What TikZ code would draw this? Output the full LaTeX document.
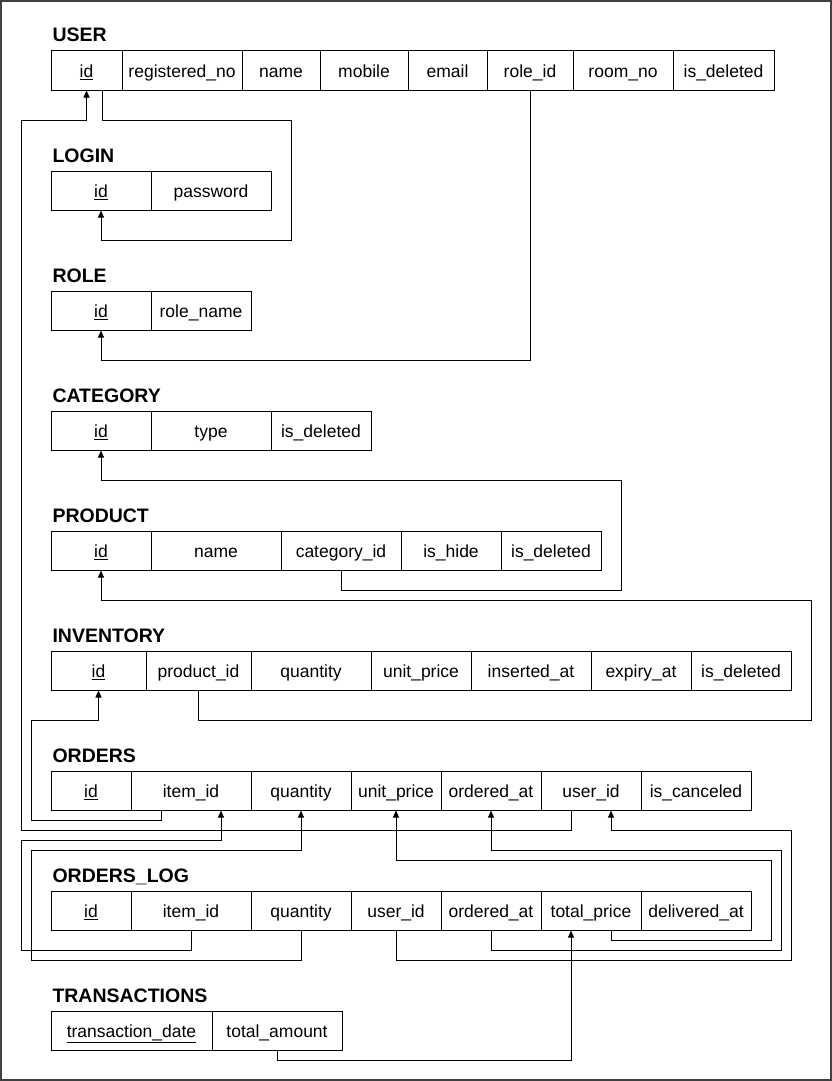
\documentclass[tikz,border=0pt]{standalone}
\usepackage{fontspec}
\setmainfont{Liberation Sans}
\usetikzlibrary{arrows.meta, positioning, calc}

\begin{document}
\begin{tikzpicture}[
    x=1pt, y=-1pt,
    >={Triangle[length=7pt,width=6pt]},
    line width=1pt,
    cell/.style={draw, minimum height=39pt, inner sep=0pt, text height=16.5pt, text depth=2pt,
        font=\fontsize{17.5}{21}\selectfont},
    title/.style={anchor=base west, inner sep=0pt, font=\fontsize{19.5}{23}\selectfont\bfseries},
    fk/.style={->, line width=1pt}
]

    % Page and frame
    \useasboundingbox (0,0) rectangle (832,1081);
    \draw[line width=1.5pt, black!75] (1,1) rectangle (831,1080);

    % USER
    \node[title] (user-title) at (52,42) {USER};
    \foreach \nm/\xa/\xb/\txt in {id/51/122/\underline{id}, reg/122/242/registered\_no,
        name/242/320/name, mobile/320/408/mobile, email/408/487/email,
        role/487/573/role\_id, room/573/673/room\_no, del/673/774/is\_deleted}
        \node[cell, minimum width={\xb-\xa}] (user-\nm) at ({(\xa+\xb)/2},70.5) {\txt};

    % LOGIN
    \node[title] (login-title) at (52,162) {LOGIN};
    \foreach \nm/\xa/\xb/\txt in {id/51/151/\underline{id}, pass/151/271/password}
        \node[cell, minimum width={\xb-\xa}] (login-\nm) at ({(\xa+\xb)/2},190.5) {\txt};

    % ROLE
    \node[title] (role-title) at (52,282) {ROLE};
    \foreach \nm/\xa/\xb/\txt in {id/51/151/\underline{id}, name/151/251/role\_name}
        \node[cell, minimum width={\xb-\xa}] (role-\nm) at ({(\xa+\xb)/2},310.5) {\txt};

    % CATEGORY
    \node[title] (cat-title) at (52,402) {CATEGORY};
    \foreach \nm/\xa/\xb/\txt in {id/51/151/\underline{id}, type/151/271/type,
        del/271/371/is\_deleted}
        \node[cell, minimum width={\xb-\xa}] (cat-\nm) at ({(\xa+\xb)/2},430.5) {\txt};

    % PRODUCT
    \node[title] (prod-title) at (52,522) {PRODUCT};
    \foreach \nm/\xa/\xb/\txt in {id/51/151/\underline{id}, name/151/281/name,
        cat/281/401/category\_id, hide/401/501/is\_hide, del/501/601/is\_deleted}
        \node[cell, minimum width={\xb-\xa}] (prod-\nm) at ({(\xa+\xb)/2},550.5) {\txt};

    % INVENTORY
    \node[title] (inv-title) at (52,642) {INVENTORY};
    \foreach \nm/\xa/\xb/\txt in {id/51/146/\underline{id}, prod/146/251/product\_id,
        qty/251/371/quantity, price/371/471/unit\_price, ins/471/591/inserted\_at,
        exp/591/691/expiry\_at, del/691/791/is\_deleted}
        \node[cell, minimum width={\xb-\xa}] (inv-\nm) at ({(\xa+\xb)/2},670.5) {\txt};

    % ORDERS
    \node[title] (ord-title) at (52,762) {ORDERS};
    \foreach \nm/\xa/\xb/\txt in {id/51/131/\underline{id}, item/131/251/item\_id,
        qty/251/351/quantity, price/351/441/unit\_price, ordered/441/541/ordered\_at,
        user/541/641/user\_id, cancel/641/751/is\_canceled}
        \node[cell, minimum width={\xb-\xa}] (ord-\nm) at ({(\xa+\xb)/2},790.5) {\txt};

    % ORDERS_LOG
    \node[title] (log-title) at (52,882) {ORDERS\_LOG};
    \foreach \nm/\xa/\xb/\txt in {id/51/131/\underline{id}, item/131/251/item\_id,
        qty/251/351/quantity, user/351/441/user\_id, ordered/441/541/ordered\_at,
        total/541/641/total\_price, deliv/641/751/delivered\_at}
        \node[cell, minimum width={\xb-\xa}] (log-\nm) at ({(\xa+\xb)/2},910.5) {\txt};

    % TRANSACTIONS
    \node[title] (trans-title) at (52,1002) {TRANSACTIONS};
    \foreach \nm/\xa/\xb/\txt in {date/51/212/\underline{transaction\_date},
        total/212/342/total\_amount}
        \node[cell, minimum width={\xb-\xa}] (trans-\nm) at ({(\xa+\xb)/2},1030.5) {\txt};

    % Foreign keys
    \draw[fk] ([xshift=15.5]user-id.south) -- ++(0,30) -| (291,240) -| (login-id.south);
    \draw[fk] (user-role.south) -- ++(0,270) -| (role-id.south);
    \draw[fk] (prod-cat.south) -- ++(0,20) -| (621,480) -| (cat-id.south);
    \draw[fk] (inv-prod.south) -- ++(0,30) -| (811,600) -| (prod-id.south);
    \draw[fk] ([xshift=-30]ord-item.south) -- ++(0,10) -| (31,720) -| (inv-id.south);
    \draw[fk] ([xshift=-20]ord-user.south) -- ++(0,20) -| (21,120) -| (user-id.south);
    \draw[fk] (log-item.south) -- ++(0,20) -| (21,840) -| ([xshift=30]ord-item.south);
    \draw[fk] (log-qty.south) -- ++(0,30) -| (31,850) -| (ord-qty.south);
    \draw[fk] ([xshift=20]log-total.south) -- ++(0,10) -| (771,860) -| (ord-price.south);
    \draw[fk] (log-ordered.south) -- ++(0,20) -| (781,850) -| (ord-ordered.south);
    \draw[fk] (log-user.south) -- ++(0,30) -| (791,830) -| ([xshift=20]ord-user.south);
    \draw[fk] (trans-total.south) -- ++(0,10) -| ([xshift=-20]log-total.south);

\end{tikzpicture}
\end{document}
